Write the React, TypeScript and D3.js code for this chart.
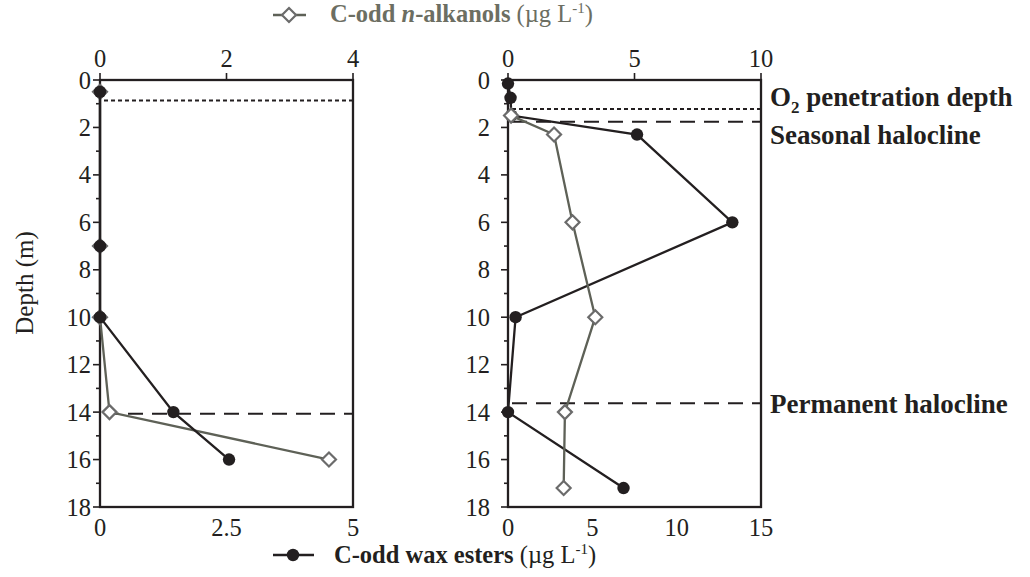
import React from "react";
import * as d3 from "d3";

// ---------- data ----------
const leftWaxDepth = [0.5, 7, 10, 14, 16];
const leftWaxValue = [0, 0, 0, 1.45, 2.55];
const leftAlkDepth = [0.5, 7, 10, 14, 16];
const leftAlkValue = [0, 0, 0, 0.15, 3.62];

const rightWaxDepth = [0.15, 0.75, 1.5, 2.3, 6, 10, 14, 17.2];
const rightWaxValue = [0, 0.15, 0.2, 7.65, 13.3, 0.45, 0, 6.85];
const rightAlkDepth = [1.5, 2.3, 6, 10, 14, 17.2];
const rightAlkValue = [0.12, 1.82, 2.55, 3.45, 2.25, 2.2];

const leftRefLines = [
  { depth: 0.86, kind: "dotted" },
  { depth: 14.07, kind: "dashed" },
];
const rightRefLines = [
  { depth: 1.22, kind: "dotted" },
  { depth: 1.76, kind: "dashed" },
  { depth: 13.63, kind: "dashed" },
];
const annotations = [
  { depth: 1.22, text: "penetration depth" },
  { depth: 1.76, text: "Seasonal halocline" },
  { depth: 13.63, text: "Permanent halocline" },
];

const depthMajor = [0, 2, 4, 6, 8, 10, 12, 14, 16, 18];
const depthMinor = [1, 3, 5, 7, 9, 11, 13, 15, 17];
const leftTopTicks = [0, 2, 4];
const leftBotTicks = [0, 2.5, 5];
const rightTopTicks = [0, 5, 10];
const rightBotTicks = [0, 5, 10, 15];

const FONT = "'Liberation Serif', 'Times New Roman', serif";
const BLACK = "#231f20";
const GRAY_LINE = "#5e6157";
const GRAY_MARK = "#6b6b6b";
const GRAY_TEXT = "#6c6e62";
const TICK_FS = 24.5;

const Y0 = 80;
const Y1 = 507;
const y = d3.scaleLinear().domain([0, 18]).range([Y0, Y1]);

type PanelProps = {
  x0: number;
  x1: number;
  topDomain: number;
  botDomain: number;
  topTicks: number[];
  botTicks: number[];
  waxD: number[];
  waxV: number[];
  alkD: number[];
  alkV: number[];
  refs: { depth: number; kind: string }[];
  alkOnTop: boolean;
  labelGap: number;
};

function Panel(p: PanelProps) {
  const xTop = d3.scaleLinear().domain([0, p.topDomain]).range([p.x0, p.x1]);
  const xBot = d3.scaleLinear().domain([0, p.botDomain]).range([p.x0, p.x1]);

  const waxPts = p.waxD.map((d, i) => [xBot(p.waxV[i]), y(d)] as [number, number]);
  const alkPts = p.alkD.map((d, i) => [xTop(p.alkV[i]), y(d)] as [number, number]);
  const line = d3.line();

  const diamond = (cx: number, cy: number, r: number) =>
    `M${cx},${cy - r}L${cx + r},${cy}L${cx},${cy + r}L${cx - r},${cy}Z`;

  const wax = (
    <g key="wax">
      <path d={line(waxPts) || ""} fill="none" stroke={BLACK} strokeWidth={2.3} />
      {waxPts.map((pt, i) => (
        <circle key={i} cx={pt[0]} cy={pt[1]} r={6.2} fill={BLACK} />
      ))}
    </g>
  );
  const alk = (
    <g key="alk">
      <path d={line(alkPts) || ""} fill="none" stroke={GRAY_LINE} strokeWidth={2.3} />
      {alkPts.map((pt, i) => (
        <path key={i} d={diamond(pt[0], pt[1], 7)} fill="#fff" stroke={GRAY_MARK} strokeWidth={2.2} />
      ))}
    </g>
  );

  return (
    <g>
      {p.refs.map((r, i) => (
        <line
          key={i}
          x1={p.x0 + 4}
          x2={p.x1}
          y1={y(r.depth)}
          y2={y(r.depth)}
          stroke={BLACK}
          strokeWidth={2}
          strokeDasharray={r.kind === "dotted" ? "4,3" : "15,9"}
        />
      ))}
      <rect x={p.x0} y={Y0} width={p.x1 - p.x0} height={Y1 - Y0} fill="none" stroke={BLACK} strokeWidth={2.3} />
      {depthMajor.map((d) => (
        <g key={"M" + d}>
          <line x1={p.x0 - 7} x2={p.x0} y1={y(d)} y2={y(d)} stroke={BLACK} strokeWidth={1.6} />
          <text
            x={p.x0 - p.labelGap}
            y={y(d)}
            dy="0.35em"
            textAnchor="end"
            fontFamily={FONT}
            fontSize={TICK_FS}
            fill={BLACK}
          >
            {d}
          </text>
        </g>
      ))}
      {depthMinor.map((d) => (
        <line key={"m" + d} x1={p.x0 - 4} x2={p.x0} y1={y(d)} y2={y(d)} stroke={BLACK} strokeWidth={1.6} />
      ))}
      {p.topTicks.map((t) => (
        <g key={"t" + t}>
          <line x1={xTop(t)} x2={xTop(t)} y1={Y0 - 7} y2={Y0} stroke={BLACK} strokeWidth={1.6} />
          <text x={xTop(t)} y={Y0 - 13} textAnchor="middle" fontFamily={FONT} fontSize={TICK_FS} fill={BLACK}>
            {t}
          </text>
        </g>
      ))}
      {p.botTicks.map((t) => (
        <text key={"b" + t} x={xBot(t)} y={Y1 + 29} textAnchor="middle" fontFamily={FONT} fontSize={TICK_FS} fill={BLACK}>
          {t}
        </text>
      ))}
      {p.alkOnTop ? [wax, alk] : [alk, wax]}
    </g>
  );
}

export default function App() {
  return (
    <svg
      width={1030}
      height={577}
      style={{ position: "absolute", left: 0, top: 0, background: "#fff" }}
    >
      <rect width={1030} height={577} fill="#fff" />
      <Panel
        x0={100}
        x1={353}
        topDomain={4}
        botDomain={5}
        topTicks={leftTopTicks}
        botTicks={leftBotTicks}
        waxD={leftWaxDepth}
        waxV={leftWaxValue}
        alkD={leftAlkDepth}
        alkV={leftAlkValue}
        refs={leftRefLines}
        alkOnTop={false}
        labelGap={9}
      />
      <Panel
        x0={508}
        x1={761}
        topDomain={10}
        botDomain={15}
        topTicks={rightTopTicks}
        botTicks={rightBotTicks}
        waxD={rightWaxDepth}
        waxV={rightWaxValue}
        alkD={rightAlkDepth}
        alkV={rightAlkValue}
        refs={rightRefLines}
        alkOnTop={true}
        labelGap={18}
      />

      <text x={770} y={106} fontFamily={FONT} fontSize={27} fontWeight="bold" fill={BLACK}>
        O<tspan fontSize={17} dy={7}>2</tspan>
        <tspan dy={-7}> {annotations[0].text}</tspan>
      </text>
      <text x={770} y={144} fontFamily={FONT} fontSize={27} fontWeight="bold" fill={BLACK}>
        {annotations[1].text}
      </text>
      <text x={770} y={413} fontFamily={FONT} fontSize={27} fontWeight="bold" fill={BLACK}>
        {annotations[2].text}
      </text>

      <text
        transform="translate(33,283) rotate(-90)"
        textAnchor="middle"
        fontFamily={FONT}
        fontSize={25}
        fill={BLACK}
      >
        Depth (m)
      </text>

      <line x1={273} x2={306} y1={15} y2={15} stroke={GRAY_LINE} strokeWidth={2.3} />
      <path d="M289,8L296,15L289,22L282,15Z" fill="#fff" stroke={GRAY_MARK} strokeWidth={2.2} />
      <text x={330} y={22} fontFamily={FONT} fontSize={24.5} fill={GRAY_TEXT}>
        <tspan fontWeight="bold">C-odd </tspan>
        <tspan fontWeight="bold" fontStyle="italic">n</tspan>
        <tspan fontWeight="bold">-alkanols</tspan>
        <tspan> (µg L</tspan>
        <tspan fontSize={15} dy={-9}>-1</tspan>
        <tspan dy={9}>)</tspan>
      </text>

      <line x1={273} x2={314} y1={555} y2={555} stroke={BLACK} strokeWidth={2.3} />
      <circle cx={293} cy={555} r={6.2} fill={BLACK} />
      <text x={334} y={563} fontFamily={FONT} fontSize={24.5} fill={BLACK}>
        <tspan fontWeight="bold">C-odd wax esters</tspan>
        <tspan> (µg L</tspan>
        <tspan fontSize={15} dy={-9}>-1</tspan>
        <tspan dy={9}>)</tspan>
      </text>
    </svg>
  );
}
